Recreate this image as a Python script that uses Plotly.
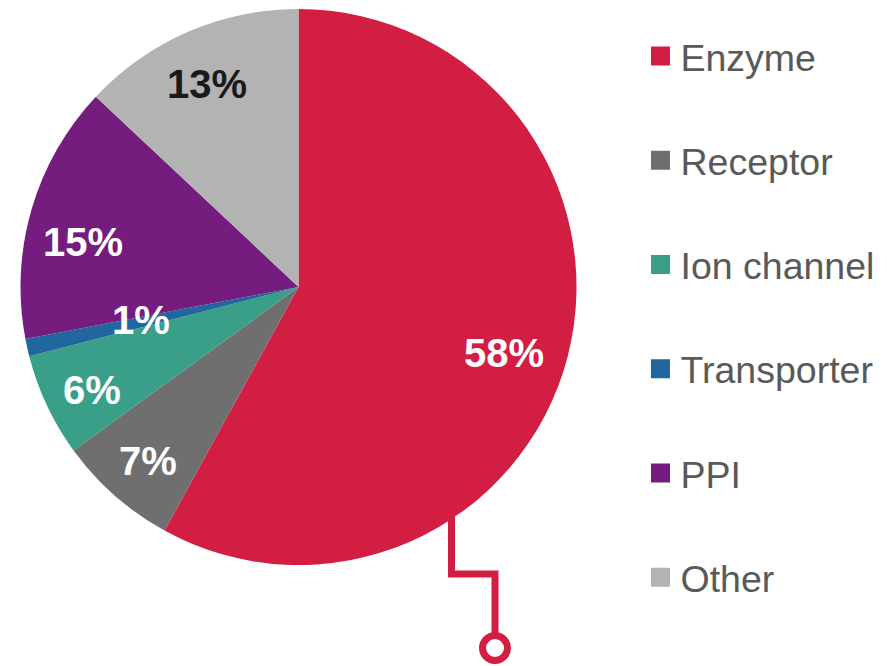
import numpy as np
import plotly.graph_objects as go

categories = ["Enzyme", "Receptor", "Ion channel", "Transporter", "PPI", "Other"]
values = [58, 7, 6, 1, 15, 13]
label_texts = ["58%", "7%", "6%", "1%", "15%", "13%"]
colors = ["#D31E43", "#6F6F6F", "#3A9F88", "#1F679E", "#751D7F", "#B3B3B3"]
label_colors = ["white", "white", "white", "white", "white", "#1A1A1A"]
label_radius = [0.78, 0.82, 0.82, 0.58, 0.79, 0.81]
label_shift = [(-4.5, 12.5), (0, 3), (0, 6), (0, -2), (-5, 16), (-2.5, 3.5)]

# the page body has an 8px margin; the figure is laid out in screen pixels
OFF = 8
W, H = 887 - OFF, 666 - OFF
cx, cy, R = 298.5, 287.0, 278.0


def P(x, y):
    return (x - OFF) / W, 1 - (y - OFF) / H


fig = go.Figure()
dx0, dy1 = P(cx - R, cy - R)
dx1, dy0 = P(cx + R, cy + R)
fig.add_trace(go.Pie(
    labels=categories, values=values, sort=False, direction="clockwise",
    rotation=0, marker=dict(colors=colors, line=dict(width=0)),
    textinfo="none", hoverinfo="label+percent", showlegend=False,
    domain=dict(x=[dx0, dx1], y=[dy0, dy1]),
))

# legend via dummy traces (one group each for the spacing)
for i, (c, col) in enumerate(zip(categories, colors)):
    fig.add_trace(go.Scatter(
        x=[None], y=[None], mode="markers", name=c, legendgroup=str(i),
        marker=dict(symbol="square", size=16, color=col, line=dict(width=3, color=col)),
    ))

# labels positioned from the slice angles
cum = np.cumsum([0] + values[:-1])
total = sum(values)
for i, t in enumerate(label_texts):
    mid = (cum[i] + values[i] / 2) / total * 2 * np.pi
    px = cx + np.sin(mid) * R * label_radius[i] + label_shift[i][0]
    py = cy - np.cos(mid) * R * label_radius[i] + label_shift[i][1]
    ax, ay = P(px, py)
    fig.add_annotation(x=ax, y=ay, xref="paper", yref="paper",
                       xanchor="center", yanchor="middle",
                       text="<b>" + t + "</b>", showarrow=False,
                       font=dict(family="Arial, Liberation Sans", size=40, color=label_colors[i]))

# connector decoration
x1, y1 = P(451.5, 515)
x2, y2 = P(451.5, 574)
x3, y3 = P(495, 574)
x4, y4 = P(495, 636)
fig.add_shape(type="path", xref="paper", yref="paper",
              path=f"M {x1},{y1} L {x2},{y2} L {x3},{y3} L {x4},{y4}",
              line=dict(color="#D31E43", width=7))
ca, cb = P(495 - 12.5, 648 - 12.5)
cc, cd = P(495 + 12.5, 648 + 12.5)
fig.add_shape(type="circle", xref="paper", yref="paper", x0=ca, y0=cd, x1=cc, y1=cb,
              line=dict(color="#D31E43", width=7), fillcolor="white")

lx, ly = P(640.5, 25)
fig.update_layout(
    width=W, height=H, margin=dict(l=0, r=0, t=0, b=0),
    paper_bgcolor="white", plot_bgcolor="white",
    xaxis=dict(visible=False), yaxis=dict(visible=False),
    legend=dict(x=lx, y=ly, xanchor="left", yanchor="top",
                font=dict(family="Arial, Liberation Sans", size=37.5, color="#595959"),
                tracegroupgap=52.5, bgcolor="rgba(0,0,0,0)"),
)
fig.write_html("out.html")
